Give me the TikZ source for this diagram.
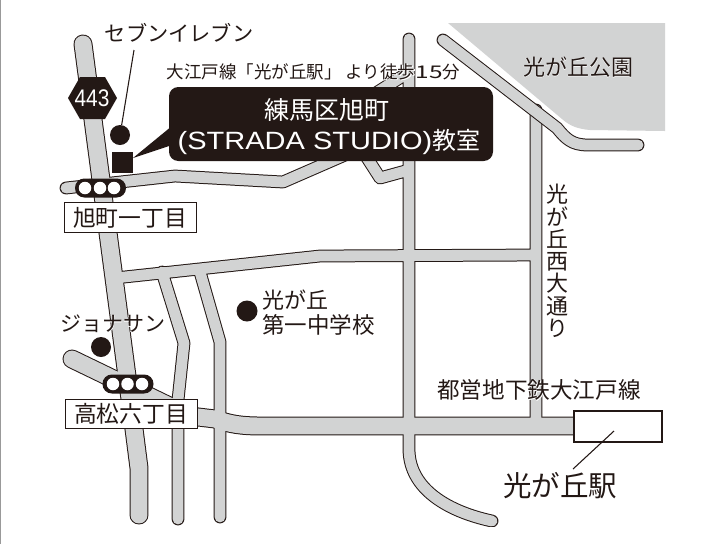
\documentclass[tikz,border=0pt]{standalone}
\usepackage{fontspec}
\usepackage{graphicx}
\setmainfont{Noto Sans CJK JP}
\newfontfamily\halofont[FakeBold=2.5]{Noto Sans CJK JP}
\newfontfamily\latinfont{Liberation Sans}
\definecolor{ink}{HTML}{231815}
\definecolor{roadgray}{HTML}{D2D3D3}
\newcommand{\halo}[1]{\rlap{\color{white}\halofont #1}#1}
\newcommand{\fs}[1]{\fontsize{\the\dimexpr#1pt*3/4\relax}{\the\dimexpr#1pt*9/10\relax}\selectfont}
\tikzset{
  x=0.75pt,y=-0.75pt,
  txt/.style={inner sep=0,outer sep=0,text=ink},
  dot/.style={circle,fill=ink,inner sep=0,minimum size=#1*0.75pt},
  lamp/.style={circle,fill=white,inner sep=0,minimum size=12.5*0.75pt},
  signal/.style={rounded corners=7pt,fill=ink,draw=none,minimum width=51*0.75pt,minimum height=19*0.75pt,inner sep=0},
  place/.style={draw=ink,fill=white,line width=0.6pt,inner sep=0,minimum width=132*0.75pt,minimum height=29.5*0.75pt},
  leader/.style={draw=ink,line width=0.8pt},
}
\begin{document}
\begin{tikzpicture}
\useasboundingbox (0,0) rectangle (705,544);
\fill[white] (0,0) rectangle (705,544);
\draw[gray!80,line width=1pt] (0.6,0) -- (0.6,544);
% park
\fill[roadgray] (448,23) -- (665,23) -- (665,131) -- (590,130) .. controls (578,129) and (570,126) .. (562,119) -- cycle;
% roads
\begin{scope}
\clip (0,0) rectangle (705,526);
\def\narrowroads{
  (66,188) -- (175,176) -- (283,182) -- (345,155)
  (362,150) -- (380,178) -- (409,170)
  (409,39) -- (409,449) .. controls (409,490) and (450,512) .. (492,521)
  (536,110) -- (536,426)
  (115,278) -- (320,256) -- (536,255)
  (162,272) -- (184,343) -- (178,400) -- (178,519)
  (200,272) -- (220,342) -- (220,517)
  (409,72) -- (365,100)
}
\def\wideroads{
  (83,44) -- (134,429) -- (139,468) -- (139,515)
  (72,359) -- (190,416) -- (215,419) .. controls (230,424) and (240,426) .. (262,426) -- (573,426)
}
\def\parkroad{
  (443,40) -- (557,128) .. controls (566,139) and (572,145) .. (588,145) -- (638,145)
}
\draw[ink,line width=9.6pt,line cap=round,line join=round] \narrowroads;
\draw[ink,line width=14.2pt,line cap=round,line join=round] \wideroads;
\draw[roadgray,line width=8.1pt,line cap=round,line join=round] \narrowroads;
\draw[roadgray,line width=12.7pt,line cap=round,line join=round] \wideroads;
\draw[ink,line width=9.6pt,line cap=round,line join=round] \parkroad;
\draw[roadgray,line width=8.1pt,line cap=round,line join=round] \parkroad;
\end{scope}
% callout
\fill[ink] (133,158) -- (172,126) -- (172,145) -- cycle;
\node[fill=ink,rounded corners=7pt,minimum width=324*0.75pt,minimum height=74*0.75pt,inner sep=0] (callout) at (331,124) {};
\node[txt,text=white] (title) at (327,110) {\fs{25}練馬区旭町};
\node[txt,text=white] (studio) at (329,142) {\fs{25}{\latinfont\scalebox{1.16}[1]{(STRADA STUDIO)}}\fs{24}教室};
% hexagon
\fill[ink] (68,98) -- (80,77) -- (105,77) -- (117,98) -- (105,119) -- (80,119) -- cycle;
\node[txt,text=white] (route) at (92,98) {\fs{24}\latinfont\scalebox{0.87}[1]{443}};
% shops
\node[dot=20] (seven) at (120,135) {};
\node[fill=ink,minimum size=21*0.75pt,inner sep=0] (school) at (122.5,162.5) {};
\node[txt] (sevenlabel) at (179,33) {\fs{21.2}セブンイレブン};
\coordinate (sevenend) at (134,50);
\draw[leader] (sevenend) -- (seven);
\node[txt] (access) at (313.5,72) {\fs{17.5}\halo{大江戸線「光が丘駅」\kern3pt より徒歩\scalebox{1.4}[1]{15}分}};
\node[txt] (park) at (578,67) {\fs{22}\halo{光が丘公園}};
% signals
\node[signal] (sig1) at (100.5,188) {};
\node[lamp] (l1a) at (85,188) {};
\node[lamp] (l1b) at (100,188) {};
\node[lamp] (l1c) at (114,188) {};
\node[signal] (sig2) at (128,384) {};
\node[lamp] (l2a) at (113,384) {};
\node[lamp] (l2b) at (127.5,384) {};
\node[lamp] (l2c) at (142,384) {};
\node[place] (asahi) at (130,217.5) {\color{ink}\fs{22.8}旭町一丁目};
\node[place] (takamatsu) at (131,414) {\color{ink}\fs{22.8}高松六丁目};
% school
\node[dot=21] (sch) at (247,311) {};
\node[txt,anchor=west] (sch1) at (262,300) {\fs{22}光が丘};
\node[txt,anchor=west] (sch2) at (262,325) {\fs{22.5}第一中学校};
\node[txt] (jona) at (112.5,324) {\fs{21}\halo{ジョナサン}};
\node[dot=20] (jonadot) at (101,347) {};
% street
\node[txt,align=center,font=\fontsize{16.5}{16.7}\selectfont] (street) at (557,261) {光\\が\\丘\\西\\大\\通\\り};
% station
\node[txt] (line) at (539,390) {\fs{22.6}\halo{都営地下鉄大江戸線}};
\node[draw=ink,fill=white,line width=1.5pt,inner sep=0,minimum width=88*0.75pt,minimum height=31*0.75pt] (station) at (617.5,426.5) {};
\coordinate (stin) at (614,431);
\coordinate (stout) at (573,469);
\draw[leader] (stin) -- (stout);
\node[txt] (stlabel) at (560,486) {\fs{28.5}光が丘駅};
\end{tikzpicture}
\end{document}
